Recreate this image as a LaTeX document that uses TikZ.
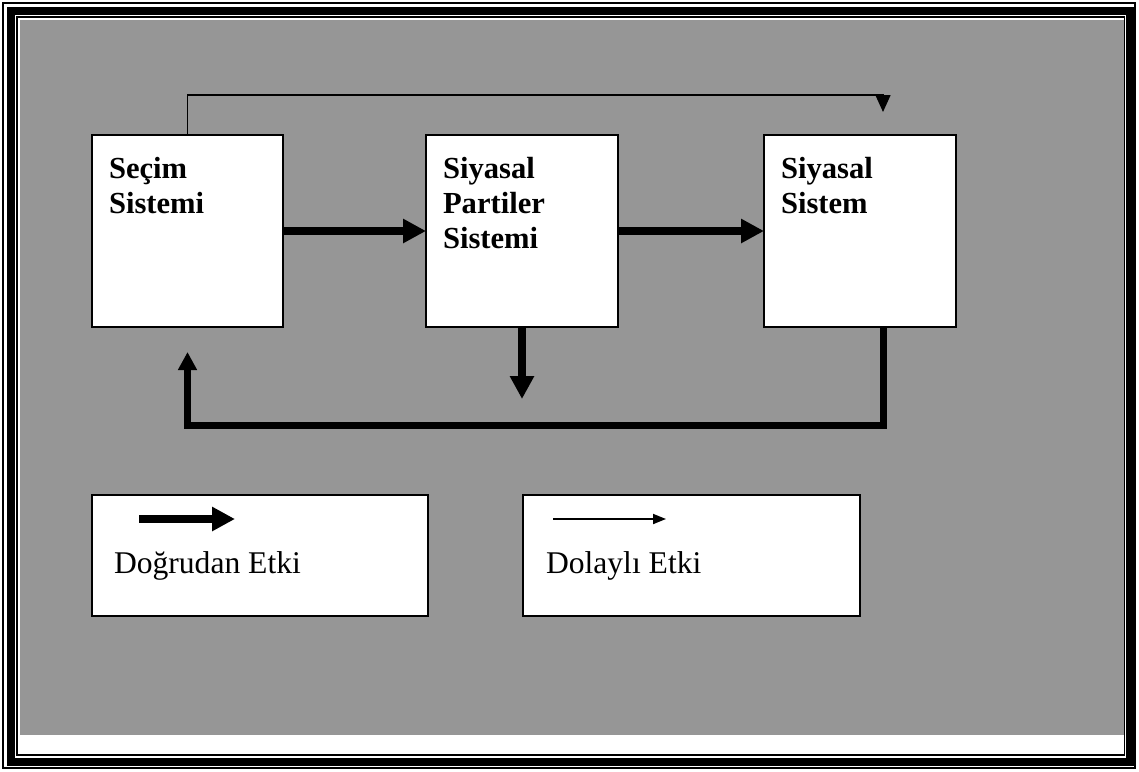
\documentclass[tikz,border=0pt]{standalone}
\usepackage{fontspec}
\setmainfont{Liberation Serif}
\usetikzlibrary{arrows.meta}
\definecolor{zemin}{HTML}{969696}
\definecolor{murekkep}{HTML}{000000}

\begin{document}
\begin{tikzpicture}[x=0.5pt, y=-0.5pt,
  blok/.style={draw=murekkep, fill=white, line width=0.8pt, anchor=north west, inner sep=0pt, outer sep=0pt},
  kalin/.style={draw=murekkep, line width=4pt, -{Triangle[length=11.5pt, width=11.5pt]}},
  ince/.style={draw=murekkep, line width=0.75pt, -{Triangle[length=8.5pt, width=7.5pt]}},
  geri/.style={draw=murekkep, line width=3.5pt, line join=miter, -{Triangle[length=9pt, width=9pt]}},
]
  \useasboundingbox (0,0) rectangle (1139,771);
  % cerceve
  \draw[line width=0.7pt] (3,3) rectangle (1135,768);
  \draw[line width=4pt] (11,11) rectangle (1129.5,762);
  \fill[zemin] (19.5,19.5) rectangle (1123.5,735);
  \draw[line width=0.7pt] (17,17) rectangle (1124.5,755);

  % sistemler
  \node[blok] (secim) at (92,135) {
    \begin{minipage}[t][96pt][t]{95.5pt}
      \fontsize{15.3}{17.5}\selectfont\bfseries\leftskip=8.5pt
      \rule{0pt}{21.5pt}Seçim\\
      Sistemi
    \end{minipage}
  };
  \node[blok] (partiler) at (426,135) {
    \begin{minipage}[t][96pt][t]{96pt}
      \fontsize{15.3}{17.5}\selectfont\bfseries\leftskip=8.5pt
      \rule{0pt}{21.5pt}Siyasal\\
      Partiler\\
      Sistemi
    \end{minipage}
  };
  \node[blok] (sistem) at (764,135) {
    \begin{minipage}[t][96pt][t]{96pt}
      \fontsize{15.3}{17.5}\selectfont\bfseries\leftskip=8.5pt
      \rule{0pt}{21.5pt}Siyasal\\
      Sistem
    \end{minipage}
  };

  % etkiler
  \draw[kalin] (secim) -- (partiler);
  \draw[kalin] (partiler) -- (sistem);
  \draw[kalin] (partiler.south) -- ++(0,72);
  \draw[ince] (secim.north) -- ++(0,-40) -| ([xshift=11.5pt, yshift=11.5pt]sistem.north);
  \draw[geri] ([xshift=11.5pt]sistem.south) -- ++(0,98) -| ([yshift=-12.5pt]secim.south);

  % aciklama
  \node[blok] (dogrudan) at (92,495) {
    \begin{minipage}[t][60.5pt][t]{168pt}
      \fontsize{15.8}{18}\selectfont\leftskip=11pt
      \rule{0pt}{39pt}Doğrudan Etki
    \end{minipage}
  };
  \node[blok] (dolayli) at (523,495) {
    \begin{minipage}[t][60.5pt][t]{168.5pt}
      \fontsize{15.8}{18}\selectfont\leftskip=11.5pt
      \rule{0pt}{39pt}Dolaylı Etki
    \end{minipage}
  };
  \draw[kalin] ([xshift=23.5pt, yshift=-12pt]dogrudan.north west) -- ++(96,0);
  \draw[draw=murekkep, line width=0.9pt, -{Triangle[length=6.5pt, width=5pt]}]
    ([xshift=15pt, yshift=-12pt]dolayli.north west) -- ++(113,0);
\end{tikzpicture}
\end{document}
